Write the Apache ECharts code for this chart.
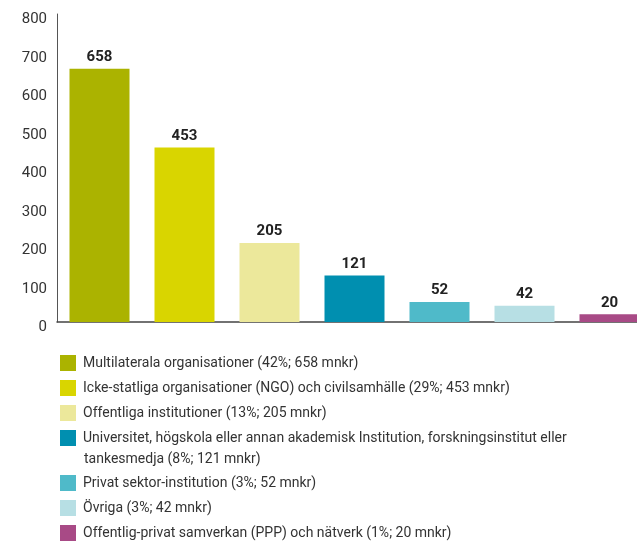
<!DOCTYPE html>
<html><head><meta charset="utf-8">
<script src="https://cdn.jsdelivr.net/npm/echarts@6/dist/echarts.min.js"></script>
<style>html,body{margin:0;padding:0;background:#fff}#c{width:637px;height:543px}</style>
</head><body><div id="c"></div>
<script>
var categories = ["Multilaterala organisationer","Icke-statliga organisationer (NGO) och civilsamhälle","Offentliga institutioner","Universitet, högskola eller annan akademisk Institution, forskningsinstitut eller tankesmedja","Privat sektor-institution","Övriga","Offentlig-privat samverkan (PPP) och nätverk"];
var values = [658, 453, 205, 121, 52, 42, 20];
var shares = ["42%","29%","13%","8%","3%","3%","1%"];
var colors = ["#abb300","#d9d500","#ece89b","#008fb0","#4fbac9","#b7dfe4","#a84a86"];
var yTicks = [0,100,200,300,400,500,600,700,800];

var legendNames = categories.map(function(c,i){ return c + " (" + shares[i] + "; " + values[i] + " mnkr)"; });
var splitIdx = 3;
var splitAt = "eller tankesmedja";
var firstLine = legendNames[splitIdx].slice(0, legendNames[splitIdx].indexOf(splitAt) + 5);
var secondLine = legendNames[splitIdx].slice(legendNames[splitIdx].indexOf(splitAt) + 6);

var font = "Roboto";
var legendTops = [355, 380, 405, 430, 475, 500, 525];

var series = categories.map(function(c,i){
  var d = values.map(function(v,j){ return j===i ? v : null; });
  return {
    name: legendNames[i], type: 'bar', stack: 'all', data: d, barWidth: 60,
    itemStyle: {color: colors[i]},
    label: {show: true, position: 'top', distance: 4, fontFamily: font, fontWeight: 'bold', fontSize: 15, color: '#222'}
  };
});

var legends = legendNames.map(function(n,i){
  return {
    data: [n], left: 60, top: legendTops[i], padding: 0, itemWidth: 16, itemHeight: 16, itemGap: 0,
    icon: 'rect', selectedMode: false,
    textStyle: {fontFamily: font, fontSize: 14, color: '#333', lineHeight: 16, padding: [0,0,0,2]},
    formatter: function(name){ return i === splitIdx ? firstLine : name; }
  };
});

var chart = echarts.init(document.getElementById('c'), null, {renderer: 'canvas'});
chart.setOption({
  animation: false,
  grid: {left: 57, top: 14, width: 595, height: 308, containLabel: false, outerBoundsMode: 'none'},
  xAxis: {type: 'category', data: categories, axisTick: {show: false}, axisLabel: {show: false},
    axisLine: {lineStyle: {color: '#444', width: 1.5}}},
  yAxis: {type: 'value', min: yTicks[0], max: yTicks[yTicks.length-1], interval: yTicks[1]-yTicks[0],
    splitLine: {show: false}, axisTick: {show: false},
    axisLine: {show: true, lineStyle: {color: '#555', width: 1}},
    axisLabel: {fontFamily: font, fontSize: 15, color: '#333', margin: 10, verticalAlign: 'top', lineHeight: 11}},
  legend: legends,
  graphic: [{type: 'text', left: 84, top: 452, style: {text: secondLine, font: '14px ' + font, fill: '#333'}}],
  series: series
});
</script></body></html>
